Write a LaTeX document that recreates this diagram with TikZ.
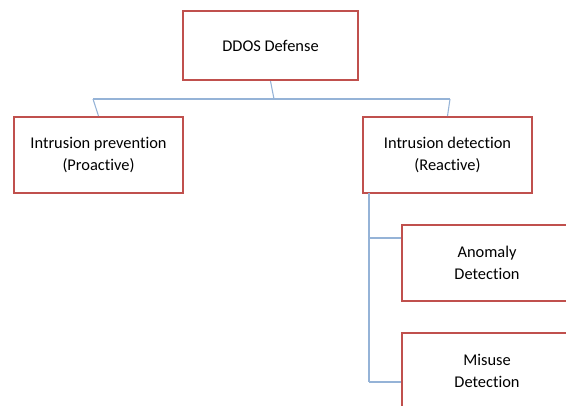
\documentclass[tikz,border=0pt]{standalone}
\usepackage{fontspec}
\setmainfont[Ligatures={NoCommon,NoRequired,NoContextual}]{Carlito}
\usepackage{tikz}

\definecolor{boxred}{RGB}{192,80,77}
\definecolor{linkblue}{RGB}{149,179,215}

\begin{document}
\begin{tikzpicture}[x=0.75pt,y=-0.75pt,
    block/.style={draw=boxred,line width=1.5pt,fill=white,align=center,
      inner sep=0pt,font=\fontsize{12.3}{16.5}\selectfont},
    link/.style={draw=linkblue,line width=0.8pt}]
    \useasboundingbox (0,0) rectangle (566,405);
    \clip (0,0) rectangle (566,405);

    \node[block,minimum width=131pt,minimum height=52pt] (root) at (270.5,45.5) {DDOS Defense};
    \node[block,minimum width=127pt,minimum height=57pt] (prev) at (98.5,155) {Intrusion prevention\\(Proactive)};
    \node[block,minimum width=127pt,minimum height=57pt] (det) at (447.5,155) {Intrusion detection\\(Reactive)};
    \node[block,minimum width=127pt,minimum height=57pt] (anom) at (487,263) {Anomaly\\Detection};
    \node[block,minimum width=127pt,minimum height=57pt] (mis) at (487,371) {Misuse\\Detection};

    \coordinate (busl) at (93,99);
    \coordinate (busm) at (274,99);
    \coordinate (busr) at (450,99);
    \coordinate (trunk) at (369,193);
    \coordinate (ta) at (369,238);
    \coordinate (tm) at (369,382);

    \draw[link] (root.south) -- (busm);
    \draw[link] (busl) -- (busr);
    \draw[link] (busl) -- (prev.north);
    \draw[link] (busr) -- (det.north);
    \draw[link] (trunk) -- (tm);
    \draw[link] (ta) -- (anom.west |- ta);
    \draw[link] (tm) -- (mis.west |- tm);
\end{tikzpicture}
\end{document}
